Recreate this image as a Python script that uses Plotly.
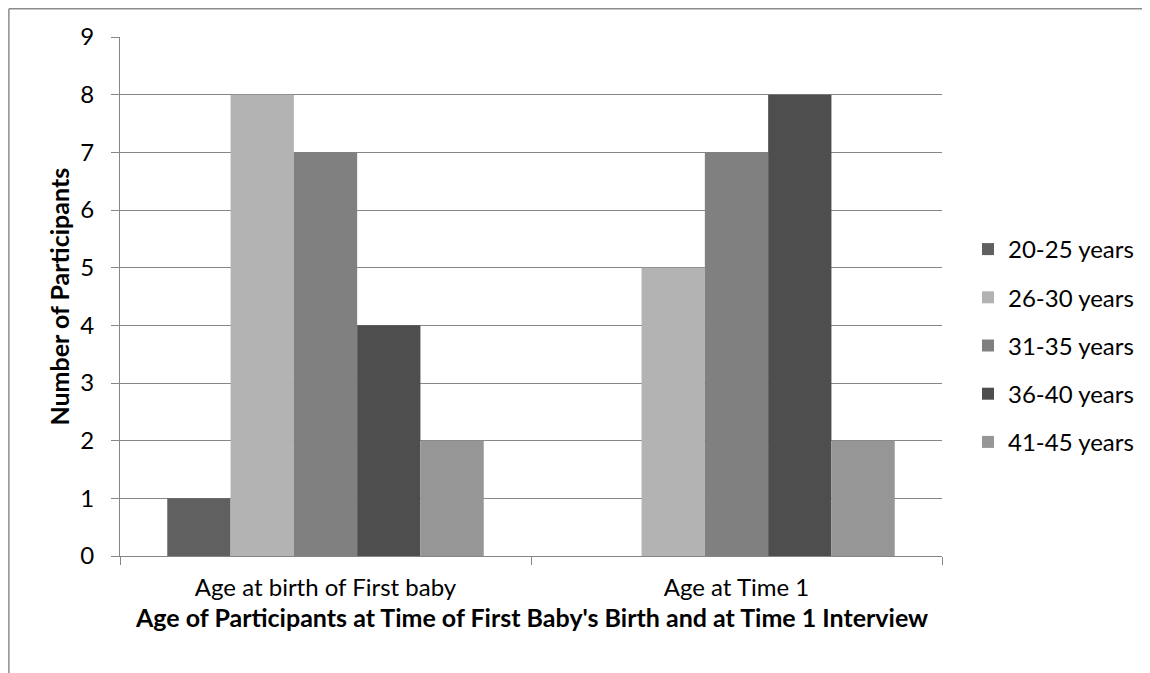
import plotly.graph_objects as go

categories = ["Age at birth of First baby", "Age at Time 1"]
series_names = ["20-25 years", "26-30 years", "31-35 years", "36-40 years", "41-45 years"]
values_20_25 = [1, 0]
values_26_30 = [8, 5]
values_31_35 = [7, 7]
values_36_40 = [4, 8]
values_41_45 = [2, 2]
colors = ["#606060", "#b3b3b3", "#808080", "#4e4e4e", "#969696"]

all_values = [values_20_25, values_26_30, values_31_35, values_36_40, values_41_45]

FONT = "Lato, 'Open Sans', sans-serif"
FS = 24
FS_TITLE = 25

fig = go.Figure()
for i, (name, vals, col) in enumerate(zip(series_names, all_values, colors)):
    fig.add_trace(go.Bar(
        x=categories, y=vals, name=name,
        marker=dict(color=col, line=dict(width=0)),
        legendgroup=f"g{i}",
    ))

# figure is placed with an 8px page margin
W, H = 1142, 665
ml, mr, mt, mb = 112, 207, 29, 117
pw = W - ml - mr
ph = H - mt - mb

def px2x(px):
    return (px - ml) / pw

def py2y(py):
    return (H - mb - py) / ph

border = "#8c8c8c"
fig.add_shape(type="line", xref="paper", yref="paper",
              x0=px2x(0.75), x1=px2x(0.75), y0=py2y(H), y1=py2y(0.75),
              line=dict(color=border, width=1.5))
fig.add_shape(type="line", xref="paper", yref="paper",
              x0=px2x(0.75), x1=px2x(W), y0=py2y(0.75), y1=py2y(0.75),
              line=dict(color=border, width=1.5))

fig.add_annotation(
    text="<b>Number of Participants</b>", xref="paper", yref="paper",
    x=px2x(50), y=0.5, xanchor="center", yanchor="middle", textangle=-90,
    showarrow=False, font=dict(family=FONT, size=FS_TITLE, color="#000000"),
)
fig.add_annotation(
    text="<b>Age of Participants at Time of First Baby's Birth and at Time 1 Interview</b>",
    xref="paper", yref="paper", x=0.5, y=py2y(609), xanchor="center", yanchor="middle",
    showarrow=False, font=dict(family=FONT, size=FS_TITLE, color="#000000"),
)

fig.update_layout(
    width=W, height=H,
    margin=dict(l=ml, r=mr, t=mt, b=mb),
    paper_bgcolor="white", plot_bgcolor="white",
    barmode="group", bargap=0.23, bargroupgap=0,
    font=dict(family=FONT, size=FS, color="#000000"),
    showlegend=True,
    legend=dict(
        x=px2x(960), y=py2y(219), xanchor="left", yanchor="top",
        font=dict(family=FONT, size=FS, color="#000000"),
        traceorder="grouped", tracegroupgap=14,
        bgcolor="rgba(0,0,0,0)",
    ),
    xaxis=dict(
        showline=True, linecolor="#868686", linewidth=1.2,
        ticks="outside", tickson="boundaries", ticklen=8, tickcolor="#868686", tickwidth=1.2,
        tickfont=dict(family=FONT, size=FS),
        ticklabelstandoff=10,
        showgrid=False,
    ),
    yaxis=dict(
        range=[0, 9], dtick=1, tick0=0,
        showline=True, linecolor="#868686", linewidth=1.2,
        ticks="outside", ticklen=8, tickcolor="#868686", tickwidth=1.2,
        showgrid=True, gridcolor="#868686", gridwidth=1.2,
        zeroline=False,
        tickfont=dict(family=FONT, size=FS),
        ticklabelstandoff=12,
    ),
)

fig.write_html("out.html")
